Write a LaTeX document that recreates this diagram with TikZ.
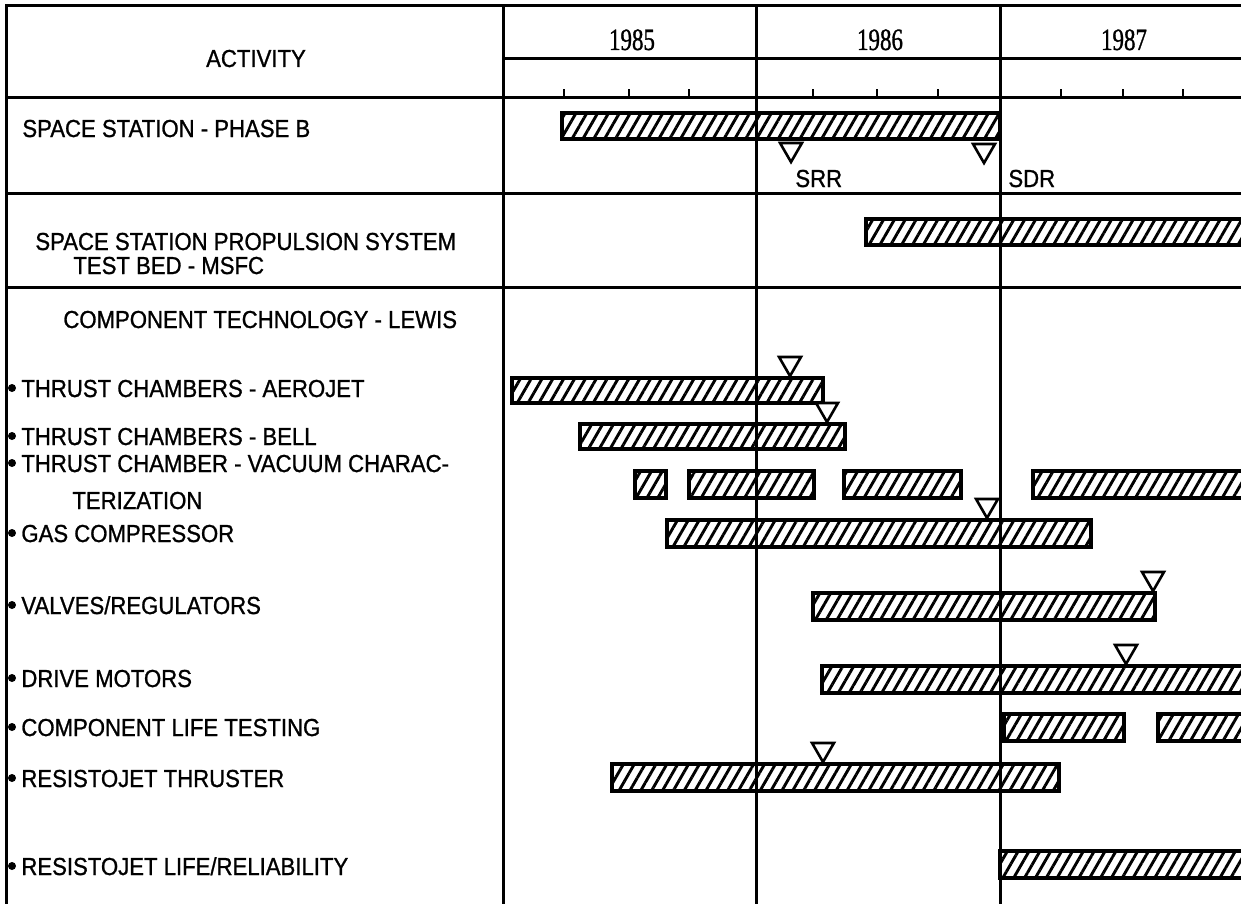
\documentclass[tikz,border=0pt]{standalone}
\usepackage{fontspec}
\setmainfont{Liberation Sans}[FakeStretch=0.9, FakeBold=1]
\newfontfamily\yearfont{Liberation Serif}[FakeStretch=0.74, FakeBold=1]
\usetikzlibrary{shapes.geometric, patterns.meta}
\tikzstyle{rule} = [line width=1.5pt]
\tikzstyle{tickline} = [line width=1pt]
\tikzstyle{taskbar} = [
    draw=black,
    line width=1.6pt,
    pattern={Lines[angle=60, distance=4.7pt, line width=1.45pt]}
]
\tikzstyle{milestone} = [
    regular polygon,
    regular polygon sides=3,
    minimum size=12.7pt,
    inner sep=0pt,
    outer sep=0pt,
    rotate=180,
    anchor=corner 1,
    draw=black,
    fill=white,
    line width=1.3pt
]
\tikzstyle{rowtext} = [
    anchor=base west,
    inner sep=0pt,
    font=\fontsize{12.3}{14}\selectfont
]
\tikzstyle{yeartext} = [
    anchor=base,
    inner sep=0pt,
    font=\fontsize{15.5}{16}\yearfont
]

\begin{document}
\begin{tikzpicture}[x=0.5pt, y=-0.5pt]
\useasboundingbox (0,0) rectangle (1241,904);
\clip (0,0) rectangle (1241,904);

% table rules
\draw[rule] (6,910) -- (6,6) -- (1250,6);
\foreach \x in {503,756,1000} \draw[rule] (\x,910) -- (\x,6);
\draw[rule] (503,59) -- (1250,59);
\foreach \y in {98,193,287} \draw[rule] (6,\y) -- (1250,\y);
\foreach \x in {564,629,689,813,877,938,1061,1123,1183}
    \draw[tickline] (\x,98) -- (\x,89);

% header
\node (activity) [rowtext, anchor=base] at (256,67) {ACTIVITY};
\node (y85) [yeartext] at (632,50) {1985};
\node (y86) [yeartext] at (880,50) {1986};
\node (y87) [yeartext] at (1124,50) {1987};

% activities
\node (phaseB) [rowtext] at (22,137) {SPACE STATION - PHASE B};
\node (testbedA) [rowtext] at (35,250) {SPACE STATION PROPULSION SYSTEM};
\node (testbedB) [rowtext] at (73,274) {TEST BED - MSFC};
\node (lewis) [rowtext] at (63,328) {COMPONENT TECHNOLOGY - LEWIS};
\node (aerojet) [rowtext] at (21,397) {THRUST CHAMBERS - AEROJET};
\node (bell) [rowtext] at (21,445) {THRUST CHAMBERS - BELL};
\node (vacuumA) [rowtext] at (21,472) {THRUST CHAMBER - VACUUM CHARAC-};
\node (vacuumB) [rowtext] at (72,509) {TERIZATION};
\node (gas) [rowtext] at (21,542) {GAS COMPRESSOR};
\node (valves) [rowtext] at (21,614) {VALVES/REGULATORS};
\node (drive) [rowtext] at (21,687) {DRIVE MOTORS};
\node (life) [rowtext] at (21,736) {COMPONENT LIFE TESTING};
\node (thruster) [rowtext] at (21,787) {RESISTOJET THRUSTER};
\node (reliab) [rowtext] at (21,875) {RESISTOJET LIFE/RELIABILITY};
% bullets
\foreach \y in {388,436,463,533,605,678,727,778,866}
    \fill (12,\y) circle (4);

% schedule bars
\draw[taskbar] (562,113) rectangle (1000,139);
\draw[taskbar] (866,219) rectangle (1250,245);
\draw[taskbar] (512,378) rectangle (823,403);
\draw[taskbar] (580,424) rectangle (845,449);
\foreach \a/\b in {635/666, 689/814, 844/961, 1033/1250}
    \draw[taskbar] (\a,471) rectangle (\b,498);
\draw[taskbar] (667,520) rectangle (1091,547);
\draw[taskbar] (813,593) rectangle (1155,620);
\draw[taskbar] (822,666) rectangle (1250,693);
\foreach \a/\b in {1004/1124, 1158/1250}
    \draw[taskbar] (\a,714) rectangle (\b,741);
\draw[taskbar] (612,764) rectangle (1059,791);
\draw[taskbar] (1000,851) rectangle (1250,878);

% milestones
\node (srr) [milestone] at (791,162) {};
\node (sdr) [milestone] at (984,163) {};
\node (srrtext) [rowtext] at (795,187) {SRR};
\node (sdrtext) [rowtext] at (1008,187) {SDR};
\node (mAerojet) [milestone] at (790,376) {};
\node (mBell) [milestone] at (827,422) {};
\node (mGas) [milestone] at (987,518) {};
\node (mValves) [milestone] at (1153,591) {};
\node (mDrive) [milestone] at (1126,664) {};
\node (mThruster) [milestone] at (823,762) {};

\end{tikzpicture}
\end{document}
